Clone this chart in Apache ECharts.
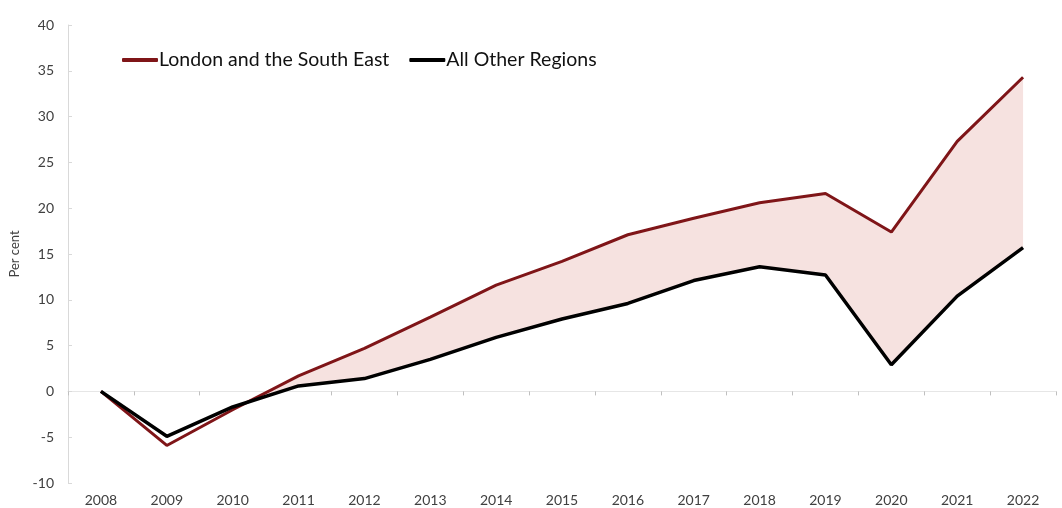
<!DOCTYPE html>
<html><head><meta charset="utf-8">
<script src="https://cdn.jsdelivr.net/npm/echarts@6/dist/echarts.min.js"></script>
<style>html,body{margin:0;padding:0;background:#fff}#c{width:1062px;height:508px}</style>
</head><body><div id="c"></div>
<script>
const years = ['2008','2009','2010','2011','2012','2013','2014','2015','2016','2017','2018','2019','2020','2021','2022'];
const london = [0,-5.9,-2.0,1.7,4.7,8.1,11.6,14.2,17.1,18.9,20.6,21.6,17.4,27.3,34.3];
const others = [0,-4.9,-1.7,0.6,1.4,3.5,5.9,7.9,9.6,12.1,13.6,12.7,2.9,10.4,15.7];
const yTicks = {min:-10, max:40, interval:5};
const band = london.map((v,i)=>Math.max(0, +(v - others[i]).toFixed(2)));
const font = 'Lato, "Noto Sans", sans-serif';
const chart = echarts.init(document.getElementById('c'), null, {renderer:'canvas'});
chart.setOption({
  animation:false,
  grid:{left:68,right:6,top:25,bottom:25},
  legend:{
    data:[{name:'London and the South East',itemStyle:{color:'#7f1518'}},{name:'All Other Regions',itemStyle:{color:'#000'}}],
    left:117, top:45, icon:'roundRect', itemWidth:36, itemHeight:4, itemGap:20,
    textStyle:{fontFamily:font,fontSize:19.5,color:'#111',padding:[0,0,0,-4]}
  },
  xAxis:[{
    type:'category', data:years, boundaryGap:true,
    axisLine:{show:false,onZero:false}, axisTick:{show:false},
    axisLabel:{fontFamily:font,fontSize:14,color:'#404040',margin:10}
  },{
    type:'category', data:years, boundaryGap:true, position:'bottom',
    axisLine:{show:true,onZero:true,lineStyle:{color:'#e6e6e6',width:1}},
    axisTick:{show:true,length:4,lineStyle:{color:'#bfbfbf'}},
    axisLabel:{show:false}
  }],
  yAxis:{
    type:'value', min:yTicks.min, max:yTicks.max, interval:yTicks.interval,
    name:'Per cent', nameLocation:'middle', nameGap:46, nameRotate:90,
    nameTextStyle:{fontFamily:font,fontSize:13,color:'#404040'},
    axisLine:{show:true,lineStyle:{color:'#d9d9d9'}},
    axisTick:{show:true,inside:true,length:4,lineStyle:{color:'#d9d9d9'}},
    splitLine:{show:false},
    axisLabel:{fontFamily:font,fontSize:14,color:'#404040',margin:14}
  },
  series:[
    {name:'base',type:'line',data:others,stack:'b',stackStrategy:'all',symbol:'none',lineStyle:{opacity:0,width:0},silent:true,z:1},
    {name:'band',type:'line',data:band,stack:'b',stackStrategy:'all',symbol:'none',lineStyle:{opacity:0,width:0},areaStyle:{color:'#f6e2e0',opacity:1},silent:true,z:1},
    {name:'London and the South East',type:'line',data:london,symbol:'none',lineStyle:{color:'#7f1518',width:3},itemStyle:{color:'#7f1518'},z:3},
    {name:'All Other Regions',type:'line',data:others,symbol:'none',lineStyle:{color:'#000',width:3.5},itemStyle:{color:'#000'},z:4}
  ]
});
</script></body></html>
